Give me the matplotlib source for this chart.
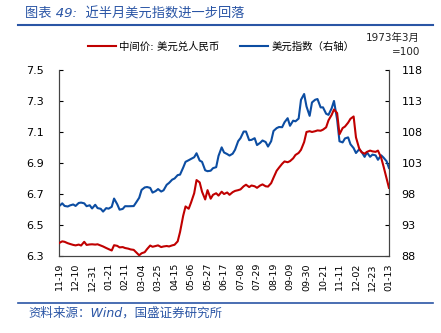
import matplotlib
matplotlib.use("Agg")
import matplotlib.pyplot as plt
import matplotlib.dates as mdates
import pandas as pd
from matplotlib.lines import Line2D

plt.rcParams["font.family"] = ["DejaVu Sans", "Noto Sans CJK SC"]

# sample dates: every Tuesday and Friday, 2021-11-19 .. 2023-01-13
DATES = pd.date_range("2021-11-19", "2023-01-13", freq="W-FRI").union(
    pd.date_range("2021-11-19", "2023-01-13", freq="W-TUE"))

# USD/CNY central parity (left axis)
USDCNY = [
    6.384, 6.395, 6.392, 6.383,                                        # 2021-11
    6.378, 6.372, 6.369, 6.374, 6.368, 6.392, 6.372, 6.375, 6.376,     # 2021-12
    6.374, 6.376, 6.368, 6.362, 6.352, 6.345, 6.336, 6.370,            # 2022-01
    6.366, 6.356, 6.358, 6.352, 6.348, 6.343, 6.340, 6.325,            # 2022-02
    6.305, 6.318, 6.325, 6.345, 6.368, 6.360, 6.365, 6.369, 6.358,     # 2022-03
    6.362, 6.365, 6.362, 6.369, 6.373, 6.395, 6.455, 6.560, 6.620,     # 2022-04
    6.605, 6.645, 6.705, 6.790, 6.775, 6.715, 6.665, 6.725, 6.670,     # 2022-05
    6.695, 6.705, 6.690, 6.715, 6.700, 6.710, 6.695, 6.712,            # 2022-06
    6.720, 6.725, 6.730, 6.750, 6.760, 6.745, 6.755, 6.750, 6.740,     # 2022-07
    6.755, 6.762, 6.750, 6.748, 6.770, 6.805, 6.850, 6.870, 6.895,     # 2022-08
    6.910, 6.905, 6.912, 6.930, 6.952, 6.965, 6.985, 7.035, 7.100,     # 2022-09
    7.105, 7.100, 7.105, 7.110, 7.108, 7.115, 7.130, 7.175,            # 2022-10
    7.210, 7.245, 7.222, 7.085, 7.125, 7.135, 7.160, 7.185, 7.200,     # 2022-11
    7.065, 6.995, 6.970, 6.960, 6.972, 6.980, 6.975, 6.972, 6.980,     # 2022-12
    6.935, 6.880, 6.800, 6.740,                                        # 2023-01
]

# US dollar index, 1973-03 = 100 (right axis)
DXY = [
    96.03, 96.50, 96.08, 95.99,
    96.17, 96.32, 96.08, 96.56, 96.62, 96.50, 96.04, 96.19, 95.67,
    96.27, 95.73, 95.62, 95.17, 95.73, 95.64, 95.94, 97.27,
    96.36, 95.48, 95.60, 96.04, 96.03, 96.04, 96.06, 96.62,
    97.40, 98.66, 99.06, 99.13, 98.99, 98.23, 98.48, 98.80, 98.40,
    98.60, 99.49, 99.79, 100.32, 100.50, 101.05, 101.13, 102.26, 103.19,
    103.45, 103.66, 103.93, 104.57, 103.39, 103.19, 101.83, 101.68, 101.76,
    102.17, 102.33, 104.15, 105.52, 104.70, 104.44, 104.20, 104.50,
    105.13, 106.52, 107.01, 108.07, 108.07, 106.68, 106.73, 107.00, 105.89,
    106.25, 106.63, 106.38, 105.65, 106.51, 108.16, 108.62, 108.80, 108.77,
    109.56, 110.22, 109.00, 109.82, 109.72, 110.16, 113.19, 114.12, 112.12,
    110.60, 112.76, 113.19, 113.31, 111.96, 111.97, 110.94, 110.76,
    111.80, 113.00, 110.00, 106.50, 106.32, 106.96, 107.13, 106.02, 105.40,
    104.61, 105.20, 104.82, 103.99, 104.69, 104.00, 104.35, 104.23, 103.52,
    104.25, 103.88, 103.28, 102.20,
]

X_START, X_END = "2021-11-19", "2023-01-13"
LEFT_TICKS = [6.3, 6.5, 6.7, 6.9, 7.1, 7.3, 7.5]
RIGHT_TICKS = [88, 93, 98, 103, 108, 113, 118]

RED = "#C00000"
BLUE = "#0C4DA2"
HEAD = "#2A55A5"

fig = plt.figure(figsize=(4.41, 3.33), dpi=100)
ax = fig.add_axes([0.134, 0.231, 0.748, 0.559])
ax2 = ax.twinx()

l1, = ax.plot(DATES, USDCNY, color=RED, lw=1.5, zorder=3)
l2, = ax2.plot(DATES, DXY, color=BLUE, lw=1.5)
ax.set_zorder(ax2.get_zorder() + 1)
ax.patch.set_visible(False)

xticks = pd.date_range(X_START, X_END, freq="21D")
ax.set_xlim(pd.Timestamp(X_START), pd.Timestamp(X_END))
ax.set_xticks(xticks)
ax.xaxis.set_major_formatter(mdates.DateFormatter("%m-%d"))
ax.tick_params(axis="x", rotation=90, labelsize=6.8, length=0, pad=5)

ax.set_ylim(6.3, 7.5)
ax.set_yticks(LEFT_TICKS)
ax.set_yticklabels([f"{v:.1f}" for v in LEFT_TICKS])
ax.tick_params(axis="y", direction="in", length=3, labelsize=8, pad=11)
ax2.set_ylim(88, 118)
ax2.set_yticks(RIGHT_TICKS)
ax2.tick_params(axis="y", direction="in", length=3, labelsize=8, pad=9)

for a in (ax, ax2):
    a.spines["top"].set_visible(False)
    for s in ("left", "right", "bottom"):
        a.spines[s].set_color("#444444")
        a.spines[s].set_linewidth(0.8)

fig.legend([l1, l2], ["中间价: 美元兑人民币", "美元指数（右轴）"],
           loc="center left", bbox_to_anchor=(88 / 441, 1 - 47 / 333), ncol=2,
           frameon=False, fontsize=7.5, handlelength=2.7, handletextpad=0.3,
           columnspacing=2.0, borderpad=0, borderaxespad=0)
fig.text(420 / 441, 1 - 38 / 333, "1973年3月", ha="right", va="center", fontsize=7.5,
         color="#222222")
fig.text(420 / 441, 1 - 52 / 333, "=100", ha="right", va="center", fontsize=7.5,
         color="#222222")

fig.text(25 / 441, 1 - 14 / 333, "图表 49:  近半月美元指数进一步回落", ha="left", va="center",
         fontsize=9.5, color=HEAD, style="italic")
fig.add_artist(Line2D([18 / 441, 433 / 441], [1 - 25 / 333, 1 - 25 / 333],
                      color=HEAD, lw=1.5))
fig.add_artist(Line2D([18 / 441, 433 / 441], [1 - 303 / 333, 1 - 303 / 333],
                      color=HEAD, lw=1.2))
fig.text(28 / 441, 1 - 313 / 333, "资料来源：Wind，国盛证券研究所", ha="left", va="center",
         fontsize=9, color=HEAD, style="italic")

fig.savefig("out.png", dpi=100)
